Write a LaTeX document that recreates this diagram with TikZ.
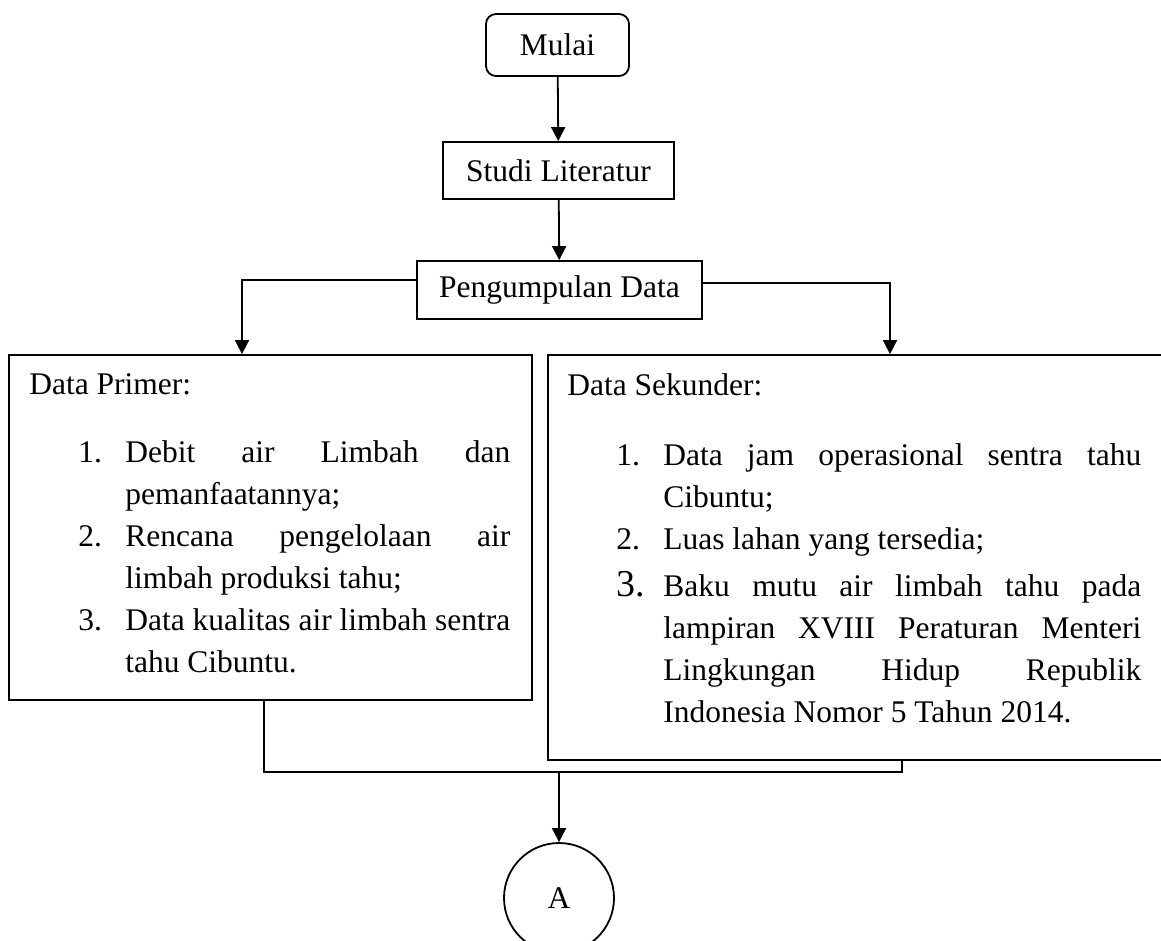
\documentclass[tikz,border=0pt]{standalone}
\usepackage{fontspec}
\setmainfont{Liberation Serif}
\usetikzlibrary{arrows.meta}
\setlength{\parindent}{0pt}
\newcommand{\numitem}[2]{\noindent\hangindent=96pt\hangafter=1\hbox to 96pt{\hspace{49pt}#1\hfil}#2\par}
\tikzset{
  box/.style={draw, line width=1.8pt, inner sep=0pt, font=\fontsize{31.5}{42}\selectfont},
  startbox/.style={box, rounded corners=10pt},
  databox/.style={draw, line width=1.8pt, inner sep=0pt},
  listtext/.style={anchor=north west, inner sep=0pt, align=justify,
    font={\fontsize{31.5}{42}\selectfont\tolerance=10000\spaceskip=0.25em plus 3em minus 0.1em}},
  conn/.style={circle, draw, line width=1.8pt, minimum size=110pt, inner sep=0pt, font=\fontsize{31.5}{42}\selectfont},
  line/.style={-{Triangle[length=14pt, width=14pt]}, line width=1.8pt},
  wire/.style={line width=1.8pt}
}

\begin{document}
\begin{tikzpicture}[x=1pt, y=-1pt]
    \useasboundingbox (0,0) rectangle (1161,940);
    \node[startbox, minimum width=143pt, minimum height=62pt] (mulai) at (557.5,45) {Mulai};
    \node[box, minimum width=231pt, minimum height=57pt] (studi) at (558.5,170.5) {Studi Literatur};
    \node[box, minimum width=285pt, minimum height=58pt] (kumpul) at (559.5,290) {Pengumpulan Data};
    \node[databox, minimum width=523pt, minimum height=345pt] (primer) at (270.5,527.5) {};
    \node[databox, minimum width=627pt, minimum height=405pt] (sekunder) at (861.5,557.5) {};
    \node[listtext, text width=481pt] (primertxt) at ([xshift=21pt,yshift=-19pt]primer.north west) {%
      Data Primer:\par\vspace{26pt}
      \numitem{1.}{Debit air Limbah dan\linebreak pemanfaatannya;}
      \numitem{2.}{Rencana pengelolaan air\linebreak limbah produksi tahu;}
      \numitem{3.}{Data kualitas air limbah sentra\linebreak tahu Cibuntu.}};
    \node[listtext, text width=574pt] (sekundertxt) at ([xshift=20pt,yshift=-19pt]sekunder.north west) {%
      Data Sekunder:\par\vspace{28pt}
      \numitem{1.}{Data jam operasional sentra tahu\linebreak Cibuntu;}
      \numitem{2.}{Luas lahan yang tersedia;}
      \vspace{5pt}
      \numitem{{\fontsize{38}{42}\selectfont 3.}}{Baku mutu air limbah tahu pada\linebreak lampiran XVIII Peraturan Menteri\linebreak Lingkungan Hidup Republik\linebreak Indonesia Nomor 5 Tahun 2014.}};
    \node[conn] (a) at (559,898) {A};
    \coordinate (merge) at (902,772);
    % alur utama
    \draw[line] (mulai) -- (studi);
    \draw[line] (studi) -- (kumpul);
    \draw[line] ([yshift=10pt]kumpul.west) -| ([xshift=-28.5pt]primer.north);
    \draw[line] ([yshift=7pt]kumpul.east) -| ([xshift=28.5pt]sekunder.north);
    % gabungan ke A
    \draw[wire] ([xshift=-6.5pt]primer.south) |- (merge) -- ([xshift=40.5pt]sekunder.south);
    \draw[line] (a.north |- merge) -- (a.north);
\end{tikzpicture}
\end{document}
